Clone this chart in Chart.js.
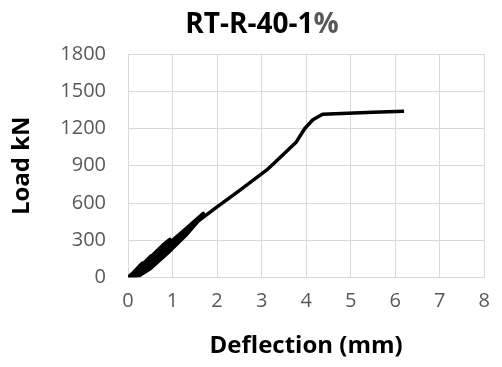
<!DOCTYPE html>
<html>
<head>
<meta charset="utf-8">
<script src="https://cdn.jsdelivr.net/npm/chart.js@4.4.0/dist/chart.umd.min.js"></script>
<style>
  html, body { margin: 0; padding: 0; background: #fff; }
  #wrap { width: 502px; height: 367px; }
</style>
</head>
<body>
<div id="wrap"><canvas id="chart"></canvas></div>
<script>
// deflection (mm) and load (kN), cyclic part first
const deflection = [0, 0.12, 0.25, 0.32, 0.28, 0.18, 0.08,
    0.2, 0.38, 0.52, 0.46, 0.33, 0.15,
    0.3, 0.55, 0.78, 0.94, 0.86, 0.65, 0.4, 0.18,
    0.5, 1.0, 1.4, 1.69, 1.6, 1.3, 0.9, 0.5, 0.25,
    0.7, 1.36, 2.0, 2.5, 3.11, 3.35, 3.78, 3.97, 4.15, 4.37, 5.5, 6.2];
const load = [0, 40, 90, 115, 85, 35, 5,
    55, 125, 175, 135, 70, 10,
    80, 180, 260, 307, 255, 160, 60, 8,
    130, 300, 425, 516, 465, 340, 200, 70, 15,
    170, 396, 569, 700, 864, 945, 1092, 1200, 1270, 1314, 1330, 1338];
const xTicks = [0, 1, 2, 3, 4, 5, 6, 7, 8];
const yTicks = [0, 300, 600, 900, 1200, 1500, 1800];

const points = deflection.map((d, i) => ({ x: d, y: load[i] }));
const gridColor = '#d9d9d9';
const fontFamily = '"Open Sans", "Liberation Sans", sans-serif';

const titlePlugin = {
    id: 'twoToneTitle',
    afterDraw(chart) {
        const ctx = chart.ctx;
        ctx.save();
        ctx.font = 'bold 28px ' + fontFamily;
        ctx.textBaseline = 'alphabetic';
        const a = 'RT-R-40-1', b = '%';
        const wa = ctx.measureText(a).width;
        const wb = ctx.measureText(b).width;
        const x0 = 262 - (wa + wb) / 2;
        ctx.fillStyle = '#000';
        ctx.fillText(a, x0, 33);
        ctx.fillStyle = '#595959';
        ctx.fillText(b, x0 + wa, 33);
        ctx.restore();
    }
};

new Chart(document.getElementById('chart'), {
    type: 'scatter',
    data: {
        datasets: [{
            data: points,
            showLine: true,
            borderColor: '#000',
            borderWidth: 3.5,
            borderJoinStyle: 'round',
            pointRadius: 0,
            tension: 0
        }]
    },
    options: {
        responsive: true,
        maintainAspectRatio: false,
        animation: false,
        layout: { padding: { left: 6, right: 9, top: 54, bottom: 5 } },
        plugins: {
            legend: { display: false },
            tooltip: { enabled: false }
        },
        scales: {
            x: {
                type: 'linear',
                min: 0,
                max: 8,
                afterBuildTicks: s => { s.ticks = xTicks.map(v => ({ value: v })); },
                afterFit: s => { s.height = 367 - 5 - 277.5; },
                ticks: { color: '#595959', font: { family: fontFamily, size: 20 }, padding: 12,
                    callback: v => String(v) },
                grid: { color: gridColor, drawTicks: false },
                border: { color: gridColor },
                title: {
                    display: true,
                    text: 'Deflection (mm)',
                    color: '#000',
                    font: { family: fontFamily, size: 24, weight: 'bold' },
                    padding: { top: 1, bottom: 1 }
                }
            },
            y: {
                type: 'linear',
                min: 0,
                max: 1800,
                afterBuildTicks: s => { s.ticks = yTicks.map(v => ({ value: v })); },
                afterFit: s => { s.width = 128 - 6; },
                ticks: { color: '#595959', font: { family: fontFamily, size: 20 }, padding: 22,
                    callback: v => String(v) },
                grid: { color: gridColor, drawTicks: false },
                border: { color: gridColor },
                title: {
                    display: true,
                    text: 'Load kN',
                    color: '#000',
                    font: { family: fontFamily, size: 24, weight: 'bold' },
                    padding: { top: 2, bottom: 0 }
                }
            }
        }
    },
    plugins: [titlePlugin]
});
</script>
</body>
</html>
